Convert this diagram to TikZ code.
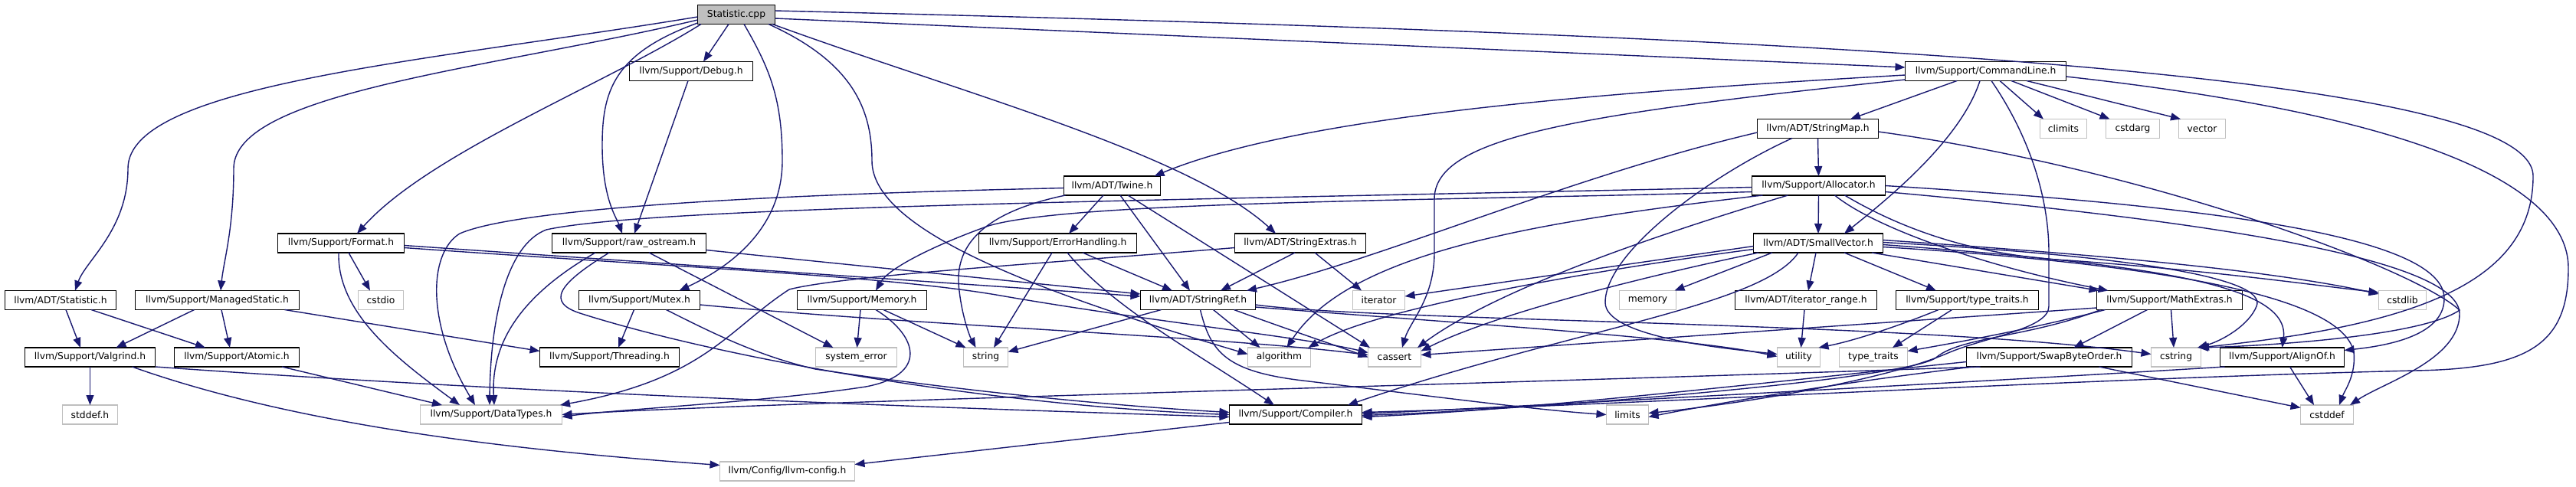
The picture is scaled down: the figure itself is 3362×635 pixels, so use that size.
\documentclass[tikz,border=0pt]{standalone}
\usepackage{fontspec}
\setmainfont{DejaVu Sans}
\usetikzlibrary{arrows.meta}
\definecolor{edgeblue}{HTML}{191970}
\definecolor{sysgray}{HTML}{BFBFBF}
\begin{document}
\begin{tikzpicture}[x=1pt,y=-1pt,
  boxbase/.style={rectangle, minimum height=25pt, inner sep=0pt, outer sep=0pt, line width=1.4pt, fill=white, font=\fontsize{12.3}{14}\selectfont},
  doc/.style={boxbase, draw=black},
  sys/.style={boxbase, draw=sysgray},
  rootbox/.style={boxbase, draw=black, fill=sysgray},
  dep/.style={draw=edgeblue, line width=1.4pt, -{Triangle[length=13pt,width=10pt]}}]
\fill[white] (0,0) rectangle (3362,635);
\useasboundingbox (0,0) rectangle (3362,635);
% nodes
\node[rootbox, minimum width=101pt] (scpp) at (961,19) {Statistic.cpp};
\node[doc, minimum width=161pt] (debug) at (902,93) {llvm/Support/Debug.h};
\node[doc, minimum width=210pt] (cmdline) at (2591.5,93) {llvm/Support/CommandLine.h};
\node[doc, minimum width=158pt] (stringmap) at (2372.5,168) {llvm/ADT/StringMap.h};
\node[sys, minimum width=61pt] (climits) at (2693,168) {climits};
\node[sys, minimum width=70pt] (cstdarg) at (2783.5,168) {cstdarg};
\node[sys, minimum width=61pt] (vector) at (2874,168) {vector};
\node[doc, minimum width=126pt] (twine) at (1451.5,242.5) {llvm/ADT/Twine.h};
\node[doc, minimum width=174pt] (allocator) at (2373.5,242.5) {llvm/Support/Allocator.h};
\node[doc, minimum width=165pt] (format) at (445,317.5) {llvm/Support/Format.h};
\node[doc, minimum width=201pt] (rawos) at (821,317.5) {llvm/Support/raw\_ostream.h};
\node[doc, minimum width=206pt] (errh) at (1380.5,317.5) {llvm/Support/ErrorHandling.h};
\node[doc, minimum width=171pt] (strext) at (1697,317.5) {llvm/ADT/StringExtras.h};
\node[doc, minimum width=169pt] (smallvec) at (2373,317.5) {llvm/ADT/SmallVector.h};
\node[doc, minimum width=145pt] (stath) at (79,392) {llvm/ADT/Statistic.h};
\node[doc, minimum width=214pt] (mstatic) at (283.5,392) {llvm/Support/ManagedStatic.h};
\node[sys, minimum width=59pt] (cstdio) at (497,392) {cstdio};
\node[doc, minimum width=158pt] (mutex) at (834.5,392) {llvm/Support/Mutex.h};
\node[doc, minimum width=169pt] (memoryh) at (1125,392) {llvm/Support/Memory.h};
\node[doc, minimum width=150pt] (strref) at (1563.5,392) {llvm/ADT/StringRef.h};
\node[sys, minimum width=68pt] (iterator) at (1799.5,392) {iterator};
\node[sys, minimum width=74pt] (memory) at (2150.5,392) {memory};
\node[doc, minimum width=185pt] (itrange) at (2357,392) {llvm/ADT/iterator\_range.h};
\node[doc, minimum width=186pt] (ttraitsh) at (2567.5,392) {llvm/Support/type\_traits.h};
\node[doc, minimum width=190pt] (mathext) at (2831.5,392) {llvm/Support/MathExtras.h};
\node[sys, minimum width=62pt] (cstdlib) at (3135.5,392) {cstdlib};
\node[doc, minimum width=170pt] (valgrind) at (117.5,466.5) {llvm/Support/Valgrind.h};
\node[doc, minimum width=163pt] (atomic) at (309,466.5) {llvm/Support/Atomic.h};
\node[doc, minimum width=182pt] (threading) at (795.5,466.5) {llvm/Support/Threading.h};
\node[sys, minimum width=106pt] (syserr) at (1117.5,466.5) {system\_error};
\node[sys, minimum width=58pt] (string) at (1286.5,466.5) {string};
\node[sys, minimum width=82pt] (algorithm) at (1669.5,466.5) {algorithm};
\node[sys, minimum width=69pt] (cassert) at (1820,466.5) {cassert};
\node[sys, minimum width=56pt] (utility) at (2347.5,466.5) {utility};
\node[sys, minimum width=89pt] (ttraits) at (2445,466.5) {type\_traits};
\node[doc, minimum width=216pt] (swapbyte) at (2674.5,466.5) {llvm/Support/SwapByteOrder.h};
\node[sys, minimum width=65pt] (cstring) at (2840,466.5) {cstring};
\node[doc, minimum width=162pt] (alignof) at (2978.5,466.5) {llvm/Support/AlignOf.h};
\node[sys, minimum width=72pt] (stddef) at (117.5,541.5) {stddef.h};
\node[sys, minimum width=185pt] (datatypes) at (641,541.5) {llvm/Support/DataTypes.h};
\node[doc, minimum width=173pt] (compiler) at (1691,541.5) {llvm/Support/Compiler.h};
\node[sys, minimum width=55pt] (limits) at (2124,541.5) {limits};
\node[sys, minimum width=69pt] (cstddef) at (3037,541.5) {cstddef};
\node[sys, minimum width=176pt] (llvmconfig) at (1027.5,615.5) {llvm/Config/llvm-config.h};
% Statistic.cpp
\draw[dep] ([yshift=-3]scpp.west) .. controls (560,80) and (167,110) .. (167,220) .. controls (167,300) and (112,340) .. ([xshift=19]stath.north);
\draw[dep] ([yshift=-7]scpp.west) .. controls (640,90) and (305,120) .. (305,220) .. controls (305,300) and (292,340) .. ([xshift=4.5]mstatic.north);
\draw[dep] ([xshift=-46]scpp.south) .. controls (790,110) and (560,200) .. ([xshift=21]format.north);
\draw[dep] ([yshift=-11]scpp.west) .. controls (800,70) and (786,120) .. (786,190) .. controls (786,260) and (805,285) .. ([xshift=-9]rawos.north);
\draw[dep] ([xshift=-10]scpp.south) -- ([xshift=16]debug.north);
\draw[dep] ([xshift=10]scpp.south) .. controls (1005,90) and (1021,130) .. (1021,210) .. controls (1021,300) and (950,350) .. ([xshift=52]mutex.north);
\draw[dep] ([xshift=42]scpp.south) .. controls (1110,80) and (1138,140) .. (1138,210) .. controls (1138,300) and (1350,380) .. ([yshift=4]algorithm.west);
\draw[dep] ([xshift=47]scpp.south) .. controls (1250,120) and (1550,200) .. ([xshift=-32]strext.north);
\draw[dep] ([yshift=-5]scpp.east) -- ([yshift=5]cmdline.west);
\draw[dep] ([yshift=5]scpp.east) .. controls (2300,45) and (3306,90) .. (3306,230) .. controls (3306,370) and (3150,425) .. ([xshift=30]cstring.north);
% Debug
\draw[dep] ([xshift=-4]debug.south) -- ([xshift=7]rawos.north);
% CommandLine
\draw[dep] ([xshift=-37.5]cmdline.south) -- ([xshift=42.5]stringmap.north);
\draw[dep] ([xshift=18.5]cmdline.south) -- ([xshift=-26]climits.north);
\draw[dep] ([xshift=33.5]cmdline.south) -- ([xshift=-30]cstdarg.north);
\draw[dep] ([xshift=53.5]cmdline.south) -- ([xshift=-28]vector.north);
\draw[dep] ([yshift=-5]cmdline.west) .. controls (2100,120) and (1700,150) .. ([xshift=55]twine.north);
\draw[dep] ([yshift=-11]cmdline.west) .. controls (2050,150) and (1872,180) .. (1872,260) -- (1872,330) .. controls (1872,390) and (1840,420) .. ([xshift=10]cassert.north);
\draw[dep] ([xshift=-7.5]cmdline.south) .. controls (2560,180) and (2470,255) .. ([xshift=34]smallvec.north);
\draw[dep] ([xshift=7.5]cmdline.south) .. controls (2650,180) and (2674,260) .. (2674,330) -- (2674,400) .. controls (2674,430) and (2590,440) .. (2540,462) .. controls (2450,500) and (2250,530) .. ([yshift=2]limits.east);
\draw[dep] ([yshift=-7]cmdline.east) .. controls (3150,150) and (3352,240) .. (3352,350) .. controls (3352,450) and (3300,482) .. (3150,484) .. controls (2700,495) and (2100,530) .. ([yshift=3]compiler.east);
% StringMap
\draw[dep] (stringmap.south) -- (allocator.north);
\draw[dep] ([yshift=-5]stringmap.west) .. controls (2050,230) and (1800,340) .. ([xshift=63.5]strref.north);
\draw[dep] ([xshift=-33.5]stringmap.south) .. controls (2230,230) and (2095,330) .. (2095,395) .. controls (2095,440) and (2250,455) .. ([yshift=4]utility.west);
\draw[dep] ([yshift=-4]stringmap.east) .. controls (2800,220) and (3150,350) .. (3210,405) .. controls (3160,440) and (2950,452) .. ([xshift=29]cstring.north);
% Allocator
\draw[dep] (allocator.south) -- (smallvec.north);
\draw[dep] ([yshift=-8]allocator.west) .. controls (1900,262) and (1400,262) .. (1290,295) .. controls (1220,320) and (1160,350) .. ([xshift=18]memoryh.north);
\draw[dep] ([yshift=-2]allocator.west) .. controls (1500,262) and (850,270) .. (713,300) .. controls (660,320) and (640,420) .. ([xshift=-2]datatypes.north);
\draw[dep] ([xshift=-73]allocator.south) .. controls (2000,290) and (1760,330) .. ([xshift=10]algorithm.north);
\draw[dep] ([xshift=-40]allocator.south) .. controls (2150,310) and (1950,380) .. ([xshift=30]cassert.north);
\draw[dep] ([xshift=21]allocator.south) .. controls (2450,300) and (2600,350) .. ([xshift=-80]mathext.north);
\draw[dep] ([xshift=34]allocator.south) .. controls (2500,310) and (2600,335) .. (2700,340) .. controls (2900,355) and (3000,370) .. ([yshift=10]cstdlib.west);
\draw[dep] (allocator.east) .. controls (2900,270) and (3190,310) .. (3190,390) .. controls (3190,440) and (3110,452) .. ([yshift=9]alignof.east);
\draw[dep] ([yshift=-8]allocator.east) .. controls (2900,290) and (3210,340) .. (3210,410) .. controls (3210,470) and (3110,500) .. ([xshift=30]cstddef.north);
% SmallVector
\draw[dep] ([xshift=-3]smallvec.south) -- ([xshift=3]itrange.north);
\draw[dep] ([xshift=34]smallvec.south) -- ([xshift=-40.5]ttraitsh.north);
\draw[dep] ([xshift=70]smallvec.south) -- ([xshift=-92]mathext.north);
\draw[dep] ([xshift=-60]smallvec.south) -- ([xshift=35]memory.north);
\draw[dep] ([yshift=-4]smallvec.west) -- ([yshift=5]iterator.east);
\draw[dep] ([yshift=-8]smallvec.west) .. controls (2100,350) and (1800,400) .. ([xshift=38]algorithm.north);
\draw[dep] ([xshift=-78]smallvec.south) .. controls (2150,360) and (1950,410) .. ([yshift=8]cassert.east);
\draw[dep] ([xshift=-26]smallvec.south) .. controls (2300,400) and (2050,430) .. ([xshift=68]compiler.north);
\draw[dep] ([yshift=4]smallvec.east) .. controls (2700,330) and (2950,350) .. ([yshift=8]cstdlib.west);
\draw[dep] ([yshift=1]smallvec.east) .. controls (2800,335) and (2960,365) .. (2945,400) .. controls (2935,425) and (2900,445) .. ([xshift=28]cstring.north);
\draw[dep] ([yshift=-2]smallvec.east) .. controls (2800,345) and (2990,370) .. (alignof.north);
\draw[dep] ([yshift=-5]smallvec.east) .. controls (2900,350) and (3060,400) .. (3072,460) .. controls (3075,490) and (3060,510) .. ([xshift=16]cstddef.north);
% iterator_range, type_traits.h
\draw[dep] ([xshift=-2]itrange.south) -- ([xshift=3]utility.north);
\draw[dep] ([xshift=-37.5]ttraitsh.south) .. controls (2480,425) and (2420,445) .. ([xshift=26]utility.north);
\draw[dep] ([xshift=-20]ttraitsh.south) -- ([xshift=25]ttraits.north);
% MathExtras
\draw[dep] ([xshift=-29]mathext.south) -- ([xshift=32]swapbyte.north);
\draw[dep] ([xshift=2]mathext.south) -- ([xshift=-3]cstring.north);
\draw[dep] ([yshift=-10]mathext.west) -- ([yshift=3]cassert.east);
\draw[dep] ([xshift=-84]mathext.south) .. controls (2650,430) and (2550,448) .. ([yshift=8]ttraits.east);
\draw[dep] ([xshift=-90]mathext.south) .. controls (2650,440) and (2560,440) .. (2528,466) .. controls (2500,495) and (2000,535) .. ([yshift=-1]compiler.east);
% SwapByteOrder
\draw[dep] ([xshift=65]swapbyte.south) -- ([yshift=9]cstddef.west);
\draw[dep] ([yshift=-6]swapbyte.west) .. controls (2300,500) and (2000,535) .. ([yshift=-3]compiler.east);
\draw[dep] ([xshift=-90]swapbyte.south) .. controls (2000,500) and (1000,525) .. (datatypes.east);
\draw[dep] ([xshift=-100]swapbyte.south) .. controls (2400,500) and (2250,525) .. ([yshift=-3]limits.east);
% AlignOf
\draw[dep] ([xshift=10]alignof.south) -- ([xshift=-17]cstddef.north);
\draw[dep] ([xshift=-75]alignof.south) .. controls (2700,492) and (2000,530) .. ([yshift=1]compiler.east);
% Memory.h
\draw[dep] ([xshift=-2]memoryh.south) -- ([xshift=1]syserr.north);
\draw[dep] ([xshift=28]memoryh.south) -- ([xshift=-26]string.north);
\draw[dep] ([xshift=18]memoryh.south) .. controls (1200,440) and (1210,490) .. (1130,505) .. controls (1000,525) and (800,535) .. ([yshift=-3]datatypes.east);
% raw_ostream
\draw[dep] ([xshift=-44]rawos.south) .. controls (690,380) and (640,440) .. ([xshift=4]datatypes.north);
\draw[dep] ([xshift=-26]rawos.south) .. controls (730,370) and (710,395) .. (760,410) .. controls (950,470) and (1300,530) .. (compiler.west);
\draw[dep] ([xshift=26]rawos.south) -- ([xshift=-30]syserr.north);
\draw[dep] ([yshift=-9]rawos.east) .. controls (1100,345) and (1350,370) .. ([yshift=8]strref.west);
% Format
\draw[dep] ([xshift=10]format.south) -- ([xshift=-14]cstdio.north);
\draw[dep] ([xshift=-3]format.south) .. controls (440,410) and (520,470) .. ([xshift=-41]datatypes.north);
\draw[dep] ([yshift=-3]format.east) -- ([yshift=5]strref.west);
\draw[dep] ([yshift=-6]format.east) .. controls (900,350) and (1150,360) .. (1300,385) .. controls (1500,420) and (1700,440) .. ([yshift=6]cassert.west);
% Mutex
\draw[dep] ([xshift=-7]mutex.south) -- ([xshift=11.5]threading.north);
\draw[dep] ([yshift=-6]mutex.east) .. controls (1200,425) and (1600,440) .. ([yshift=3]cassert.west);
\draw[dep] ([xshift=35]mutex.south) .. controls (930,435) and (990,465) .. (1064,482) .. controls (1250,510) and (1450,530) .. ([yshift=3]compiler.west);
% Twine
\draw[dep] ([xshift=-11.5]twine.south) -- ([xshift=14.5]errh.north);
\draw[dep] ([xshift=10.5]twine.south) -- ([xshift=-10.5]strref.north);
\draw[dep] ([xshift=-61]twine.south) .. controls (1270,280) and (1245,330) .. (1252,380) .. controls (1256,415) and (1266,440) .. ([xshift=-13]string.north);
\draw[dep] ([xshift=20.5]twine.south) -- ([xshift=-32]cassert.north);
\draw[dep] ([yshift=-3]twine.west) .. controls (1200,250) and (700,262) .. (600,305) .. controls (560,330) and (555,420) .. ([xshift=-21]datatypes.north);
% ErrorHandling
\draw[dep] ([xshift=-7.5]errh.south) -- ([xshift=10.5]string.north);
\draw[dep] ([xshift=32.5]errh.south) -- ([xshift=-33.5]strref.north);
\draw[dep] ([xshift=12.5]errh.south) .. controls (1450,400) and (1560,460) .. ([xshift=-28]compiler.north);
% StringExtras
\draw[dep] ([xshift=-7]strext.south) -- ([xshift=29.5]strref.north);
\draw[dep] ([xshift=19]strext.south) -- ([xshift=-22.5]iterator.north);
\draw[dep] ([yshift=-6]strext.west) .. controls (1350,345) and (1100,360) .. (1030,378) .. controls (950,430) and (920,495) .. ([xshift=90]datatypes.north);
% StringRef
\draw[dep] ([xshift=-48]strref.south) -- ([yshift=7]string.east);
\draw[dep] ([xshift=20]strref.south) -- ([xshift=-25]algorithm.north);
\draw[dep] ([xshift=47]strref.south) .. controls (1680,430) and (1740,450) .. (cassert.west);
\draw[dep] ([xshift=3]strref.south) .. controls (1580,460) and (1600,485) .. (1700,497) .. controls (1850,515) and (2000,535) .. (limits.west);
\draw[dep] ([yshift=-6]strref.east) .. controls (1800,420) and (2500,420) .. ([yshift=4]cstring.west);
\draw[dep] ([yshift=-9]strref.east) .. controls (1900,422) and (2200,440) .. ([yshift=1]utility.west);
% Statistic.h, ManagedStatic.h
\draw[dep] ([xshift=7]stath.south) -- ([xshift=-12.5]valgrind.north);
\draw[dep] ([xshift=40]stath.south) -- ([xshift=-41]atomic.north);
\draw[dep] ([xshift=-30]mstatic.south) -- ([xshift=34]valgrind.north);
\draw[dep] ([xshift=5.5]mstatic.south) -- ([xshift=-9]atomic.north);
\draw[dep] ([xshift=88]mstatic.south) -- ([yshift=8]threading.west);
% Valgrind, Atomic, Compiler
\draw[dep] (valgrind.south) -- (stddef.north);
\draw[dep] ([xshift=85.5]valgrind.south) .. controls (700,515) and (1300,535) .. ([yshift=-3]compiler.west);
\draw[dep] ([xshift=55]valgrind.south) .. controls (400,560) and (700,590) .. ([yshift=8]llvmconfig.west);
\draw[dep] ([xshift=59]atomic.south) -- ([xshift=-64]datatypes.north);
\draw[dep] ([yshift=-10]compiler.west) -- ([yshift=9]llvmconfig.east);
\end{tikzpicture}
\end{document}
